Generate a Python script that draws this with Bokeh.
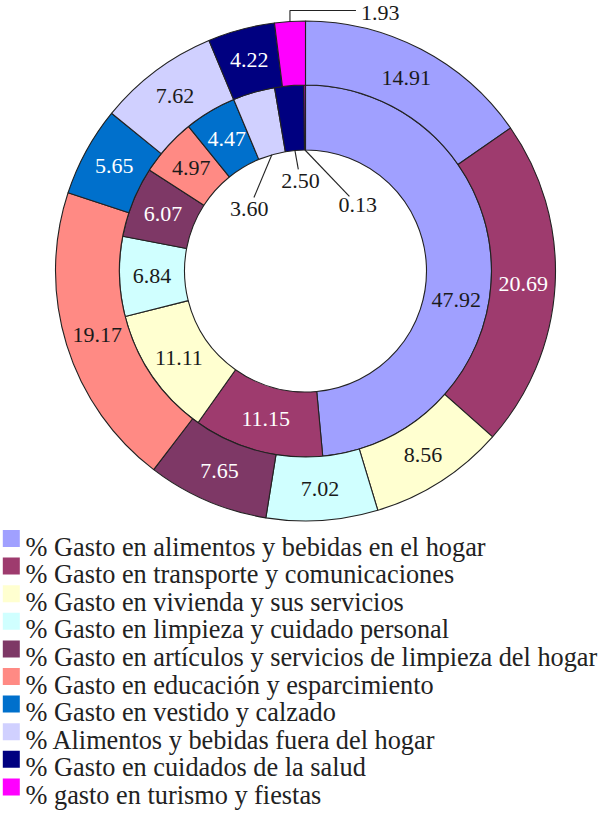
import numpy as np
from bokeh.plotting import figure
from bokeh.models import ColumnDataSource, Range1d
from bokeh.core.properties import value
from bokeh.embed import file_html
from bokeh.resources import INLINE

# ---------------- data ----------------
categories = [
    "% Gasto en alimentos y bebidas en el hogar",
    "% Gasto en transporte y comunicaciones",
    "% Gasto en vivienda y sus servicios",
    "% Gasto en limpieza y cuidado personal",
    "% Gasto en artículos y servicios de limpieza del hogar",
    "% Gasto en educación y esparcimiento",
    "% Gasto en vestido y calzado",
    "% Alimentos y bebidas fuera del hogar",
    "% Gasto en cuidados de la salud",
    "% gasto en turismo y fiestas",
]
inner_values = [47.92, 11.15, 11.11, 6.84, 6.07, 4.97, 4.47, 3.60, 2.50, 0.13]
outer_values = [14.91, 20.69, 8.56, 7.02, 7.65, 19.17, 5.65, 7.62, 4.22, 1.93]

# ---------------- style ----------------
colors = ["#A0A0FF", "#9E3B6E", "#FFFFD0", "#D0FFFF", "#7E3866",
          "#FF8A84", "#0070CC", "#D0D0FF", "#000080", "#FF00FF"]
label_colors = ["#1a1a1a", "white", "#1a1a1a", "#1a1a1a", "white",
                "#1a1a1a", "white", "#1a1a1a", "white", "#1a1a1a"]
FONT = "Liberation Serif"
W, H = 599, 810
CX, CY = 305.0, H - 270.5
R_HOLE, R_MID, R_OUT = 121.0, 186.0, 250.0
LINE = "#222222"

# label placement tweaks (style): extra clockwise shift in degrees for inner labels
inner_label_shift = {0: 13.5}
# small inner slices: label placed in the hole (clockwise angle deg, radius)
inner_hole_labels = {7: (318.0, 84.0), 8: (356.8, 90.0), 9: (38.4, 84.0)}
outer_callout = 9  # labelled outside with an elbow leader


def ring(vals):
    v = np.asarray(vals, dtype=float)
    sweep = v / v.sum() * 2 * np.pi
    cend = np.cumsum(sweep)
    cstart = cend - sweep
    return np.pi / 2 - cstart, np.pi / 2 - cend, np.pi / 2 - (cstart + cend) / 2


p = figure(width=W, height=H, x_range=Range1d(0, W), y_range=Range1d(0, H),
           output_backend="svg", toolbar_location=None, min_border=0,
           x_axis_location=None, y_axis_location=None)
p.grid.visible = False
p.outline_line_color = None
p.background_fill_color = "white"
p.border_fill_color = "white"

lx, ly, lt, lc = [], [], [], []
segs_x, segs_y = [], []

for vals, r0, r1, is_inner in [(inner_values, R_HOLE, R_MID, True),
                               (outer_values, R_MID, R_OUT, False)]:
    s, e, m = ring(vals)
    src = ColumnDataSource(dict(start=s, end=e, color=colors, cat=categories, val=vals))
    p.annular_wedge(x=CX, y=CY, inner_radius=r0, outer_radius=r1,
                    start_angle="start", end_angle="end", direction="clock",
                    fill_color="color", line_color=LINE, line_width=1.1, source=src)
    rm = (r0 + r1) / 2
    for i, v in enumerate(vals):
        txt = f"{v:.2f}"
        if is_inner and i in inner_hole_labels:
            a_deg, rr = inner_hole_labels[i]
            a = np.pi / 2 - np.radians(a_deg)
            tx, ty = CX + rr * np.cos(a), CY + rr * np.sin(a)
            px, py = CX + R_HOLE * np.cos(m[i]), CY + R_HOLE * np.sin(m[i])
            dx, dy = px - tx, py - ty
            d = np.hypot(dx, dy)
            ex, ey = tx + dx / d * 12.0, ty + dy / d * 12.0
            segs_x.append([px, ex]); segs_y.append([py, ey])
            lx.append(tx); ly.append(ty); lt.append(txt); lc.append("#1a1a1a")
        elif (not is_inner) and i == outer_callout:
            px, py = CX + R_OUT * np.cos(m[i]), CY + R_OUT * np.sin(m[i])
            ey = CY + R_OUT + 10.5
            hx = px + 66
            segs_x.append([px, px, hx]); segs_y.append([py, ey, ey])
            p.text(x=[hx + 5], y=[ey - 2.5], text=[txt], text_align="left",
                   text_baseline="middle", text_font=value(FONT),
                   text_font_size="22px", text_color="#1a1a1a")
        else:
            a = m[i]
            if is_inner and i in inner_label_shift:
                a = a - np.radians(inner_label_shift[i])
            lx.append(CX + rm * np.cos(a)); ly.append(CY + rm * np.sin(a))
            lt.append(txt); lc.append(label_colors[i])

p.multi_line(xs=segs_x, ys=segs_y, line_color=LINE, line_width=1.1)
p.text(x=lx, y=ly, text=lt, text_color=lc, text_align="center",
       text_baseline="middle", text_font=value(FONT), text_font_size="22px")

# ---------------- legend ----------------
row0 = H - 538.0   # centre of first row (data units, y up)
pitch = 27.6
rows_y = [row0 - k * pitch for k in range(len(categories))]
p.rect(x=[10.8] * len(categories), y=rows_y, width=17, height=17,
       fill_color=colors, line_color=None)
p.text(x=[25] * len(categories), y=[yy - 8.5 for yy in rows_y], text=categories,
       text_align="left", text_baseline="alphabetic", text_font=value(FONT),
       text_font_size="26.3px", text_color="#222222")

open("out.html", "w").write(file_html(p, INLINE))
